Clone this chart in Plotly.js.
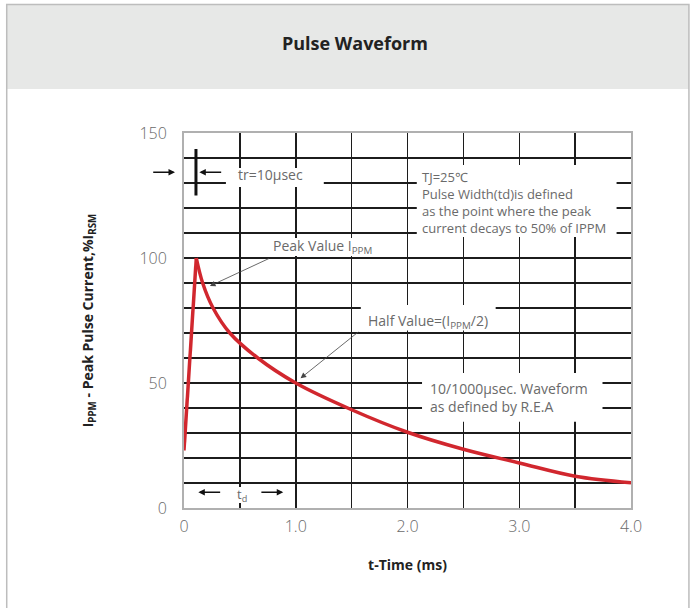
<!DOCTYPE html>
<html>
<head>
<meta charset="utf-8">
<script src="https://cdn.plot.ly/plotly-3.0.1.min.js"></script>
<style>html,body{margin:0;padding:0;background:#fff;}#chart{width:694px;height:608px;}</style>
</head>
<body>
<div id="chart"></div>
<script>
// Data
const riseT = [0, 0.11];
const riseY = [23, 100];
const decayT = [0.11, 0.167, 0.26, 0.41, 0.66, 1.0, 1.5, 2.0, 2.5, 3.0, 3.5, 4.0];
const decayY = [100, 90, 80, 70, 60, 50, 39.3, 30.3, 23.5, 18, 12.7, 10.1];
const xTickVals = [0, 1.0, 2.0, 3.0, 4.0];
const xTickText = ['0', '1.0', '2.0', '3.0', '4.0'];
const yTickVals = [0, 50, 100, 150];
const yTickText = ['0', '50', '100', '150'];

const FONT = 'Open Sans, Noto Sans, sans-serif';
const RED = '#d1272e';
const GREY_TXT = '#6a6a6a';
const GRID = '#1c1c1c';

const traces = [
  {x: riseT, y: riseY, mode: 'lines', line: {color: RED, width: 3.5}, hoverinfo: 'skip', showlegend: false},
  {x: decayT, y: decayY, mode: 'lines', line: {color: RED, width: 3.5, shape: 'spline', smoothing: 1}, hoverinfo: 'skip', showlegend: false}
];

function box(x0, x1, y0, y1) {
  return {type: 'rect', xref: 'x', yref: 'y', x0: x0, x1: x1, y0: y0, y1: y1,
          fillcolor: '#ffffff', line: {width: 0}, layer: 'above'};
}
function arrow(xh, yh, xt, yt, color, w, size) {
  return {x: xh, y: yh, ax: xt, ay: yt, xref: 'x', yref: 'y', axref: 'x', ayref: 'y',
          text: '', showarrow: true, arrowhead: 2, arrowsize: size, arrowwidth: w,
          arrowcolor: color, standoff: 0, startstandoff: 0};
}
function label(txt, x, y, size) {
  return {x: x, y: y, xref: 'x', yref: 'y', text: txt, showarrow: false,
          xanchor: 'left', yanchor: 'middle', align: 'left',
          font: {family: FONT, size: size, color: GREY_TXT}};
}

const shapes = [
  // header band and frame
  {type: 'rect', xref: 'paper', yref: 'paper', x0: -0.3966, x1: 1.1296, y0: 1.1173, y1: 1.3413,
   fillcolor: '#e7e8e7', line: {width: 0}, layer: 'below'},
  {type: 'rect', xref: 'paper', yref: 'paper', x0: -0.3966, x1: 1.1296, y0: -0.28, y1: 1.3427,
   fillcolor: 'rgba(0,0,0,0)', line: {color: '#bdbdbd', width: 1.5}, layer: 'below'},
  // white boxes behind the texts
  box(0.375, 1.251, 128.4, 136),
  box(2.083, 3.871, 108.4, 137.2),
  box(0.733, 1.734, 100.8, 108),
  box(1.582, 2.789, 71, 81.2),
  box(2.13, 3.745, 34.5, 54),
  box(0.34, 0.68, 2, 8.4),
  // tr marker
  {type: 'line', xref: 'x', yref: 'y', x0: 0.107, x1: 0.107, y0: 125, y1: 143.6,
   line: {color: '#111', width: 3}, layer: 'above'}
];

const annotations = [
  label('tr=10μsec', 0.465, 133.6, 14),
  label('TJ=25℃<br>Pulse Width(td)is defined<br>as the point where the peak<br>current decays to 50% of IPPM', 2.116, 122.2, 13),
  label('Peak Value I<sub>PPM</sub>', 0.775, 104.5, 14),
  label('Half Value=(I<sub>PPM</sub>/2)', 1.633, 74.5, 14),
  label('10/1000μsec. Waveform<br>as defined by R.E.A', 2.184, 44.2, 14),
  {x: 0.516, y: 5.4, xref: 'x', yref: 'y', text: 't<sub>d</sub>', showarrow: false,
   xanchor: 'center', yanchor: 'middle', font: {family: FONT, size: 13, color: GREY_TXT}},
  // arrow left of the plot area (paper x so it is not hidden)
  {x: -0.0201, y: 134.3, xref: 'paper', yref: 'y', ax: -23.3, ay: 0, axref: 'pixel', ayref: 'pixel',
   text: '', showarrow: true, arrowhead: 2, arrowsize: 1, arrowwidth: 1.3, arrowcolor: '#111',
   standoff: 0, startstandoff: 0},
  arrow(0.137, 134.3, 0.346, 134.3, '#111', 1.3, 1),
  arrow(0.128, 6.3, 0.337, 6.3, '#111', 1.3, 1),
  arrow(0.888, 6.3, 0.679, 6.3, '#111', 1.3, 1),
  arrow(0.232, 88.8, 0.775, 100.1, '#444', 0.8, 1.4),
  arrow(1.043, 51.9, 1.573, 70.9, '#444', 0.8, 1.4)
];

const layout = {
  width: 694, height: 608,
  margin: {l: 184, r: 62.5, t: 133, b: 100, pad: 0},
  paper_bgcolor: '#ffffff', plot_bgcolor: '#ffffff',
  font: {family: FONT, color: '#222'},
  title: {text: 'Pulse Waveform', x: 0.5115, xref: 'container', xanchor: 'center',
          y: 1 - 44 / 608, yref: 'container', yanchor: 'middle',
          font: {family: FONT, size: 18, color: '#222', weight: 'bold'}},
  xaxis: {range: [0, 4], tickmode: 'array', tickvals: xTickVals, ticktext: xTickText, ticks: '',
          showgrid: true, gridcolor: GRID, gridwidth: 1.5, zeroline: false,
          minor: {tickmode: 'linear', tick0: 0, dtick: 0.5, showgrid: true, gridcolor: GRID, gridwidth: 1.5, ticks: ''},
          showline: true, linecolor: '#b0b0b0', linewidth: 2, mirror: true,
          ticklabelstandoff: 3, tickfont: {family: FONT, size: 16, color: GREY_TXT, weight: 300},
          title: {text: 't-Time (ms)', standoff: 24, font: {family: FONT, size: 14, color: '#222', weight: 'bold'}},
          fixedrange: true},
  yaxis: {range: [0, 150], tickmode: 'array', tickvals: yTickVals, ticktext: yTickText, ticks: '',
          showgrid: true, gridcolor: GRID, gridwidth: 1.5, zeroline: false,
          minor: {tickmode: 'linear', tick0: 0, dtick: 10, showgrid: true, gridcolor: GRID, gridwidth: 1.5, ticks: ''},
          showline: true, linecolor: '#b0b0b0', linewidth: 2, mirror: true,
          ticklabelstandoff: 12, tickfont: {family: FONT, size: 16, color: GREY_TXT, weight: 300},
          title: {text: 'I<sub>PPM</sub> - Peak Pulse Current,%I<sub>RSM</sub>', standoff: 42,
                  font: {family: FONT, size: 14, color: '#222', weight: 'bold'}},
          fixedrange: true},
  shapes: shapes,
  annotations: annotations,
  showlegend: false
};

Plotly.newPlot('chart', traces, layout, {displayModeBar: false, staticPlot: true});
</script>
</body>
</html>
